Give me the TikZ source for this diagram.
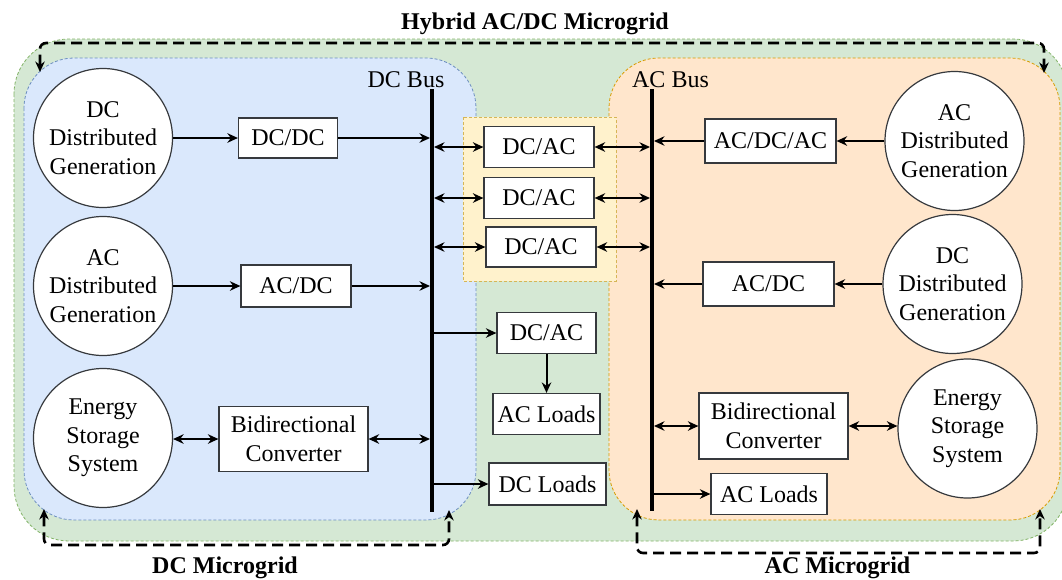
\documentclass[tikz,border=0pt]{standalone}
\usepackage{fontspec}
\setmainfont{Liberation Serif}
\usetikzlibrary{arrows.meta}
\definecolor{grnF}{HTML}{D5E8D4}
\definecolor{grnL}{HTML}{82B366}
\definecolor{bluF}{HTML}{DAE8FC}
\definecolor{bluL}{HTML}{6C8EBF}
\definecolor{orgF}{HTML}{FFE6CC}
\definecolor{orgL}{HTML}{D79B00}
\definecolor{ylwF}{HTML}{FFF2CC}
\definecolor{ylwL}{HTML}{D6B656}
\definecolor{boxL}{HTML}{36393D}
\tikzset{
  region/.style={line width=0.8pt, dash pattern=on 3pt off 2pt},
  box/.style={draw=boxL, fill=white, line width=1.2pt, inner sep=0pt, align=center,
    font=\fontsize{24}{28.5}\selectfont},
  circ/.style={circle, draw=boxL, fill=white, line width=1.2pt, inner sep=0pt,
    minimum size=139pt, align=center, font=\fontsize{24}{28.5}\selectfont},
  tipA/.tip={Stealth[length=10.5pt,width=9.5pt]},
  conn/.style={line width=2pt, -tipA},
  biconn/.style={line width=2pt, tipA-tipA},
  bus/.style={line width=4.2pt},
  lbl/.style={font=\fontsize{24}{28.5}\selectfont, inner sep=0pt},
  ttl/.style={font=\fontsize{24}{28.5}\selectfont\bfseries, inner sep=0pt},
  bracket/.style={line width=2.6pt, dash pattern=on 11pt off 6pt, rounded corners=6pt, tipA-tipA}
}
\begin{document}
\begin{tikzpicture}[x=1pt,y=-1pt]
\useasboundingbox (0,0) rectangle (1062,579);
\clip (0,0) rectangle (1062,579);

% microgrid areas
\draw[region, draw=grnL, fill=grnF, rounded corners=55pt] (14,39) rectangle (1068,541);
\draw[region, draw=bluL, fill=bluF, rounded corners=50pt] (24,58) rectangle (476,520);
\draw[region, draw=orgL, fill=orgF, rounded corners=50pt] (609,58) rectangle (1060,520);
\draw[region, draw=ylwL, fill=ylwF] (463,117) rectangle (616,281);

% buses
\coordinate (dcbT) at (432,89);
\coordinate (dcbB) at (432,512);
\coordinate (acbT) at (652,89);
\coordinate (acbB) at (652,511);
\draw[bus] (dcbT) -- (dcbB);
\draw[bus] (acbT) -- (acbB);
\node[lbl, anchor=base] (dcbl) at (406,87) {DC Bus};
\node[lbl, anchor=base] (acbl) at (670.5,87) {AC Bus};

% DC side
\node[circ] (dgdc) at (103,138) {DC\\Distributed\\Generation};
\node[circ] (dgac) at (103,286) {AC\\Distributed\\Generation};
\node[circ] (essl) at (103,438) {Energy\\Storage\\System};
\node[box, minimum width=99pt, minimum height=40pt] (dcdc) at (288,138) {DC/DC};
\node[box, minimum width=110pt, minimum height=42pt] (acdcl) at (296,286) {AC/DC};
\node[box, minimum width=149pt, minimum height=65pt] (bdl) at (293.5,439) {Bidirectional\\Converter};

% interlinking and central loads
\node[box, minimum width=110pt, minimum height=41pt] (dcac1) at (539,147) {DC/AC};
\node[box, minimum width=110pt, minimum height=41pt] (dcac2) at (539,198) {DC/AC};
\node[box, minimum width=110pt, minimum height=40pt] (dcac3) at (541,247) {DC/AC};
\node[box, minimum width=99pt, minimum height=41pt] (dcac4) at (546.5,333) {DC/AC};
\node[box, minimum width=107pt, minimum height=41pt] (acld1) at (546.5,414) {AC Loads};
\node[box, minimum width=117pt, minimum height=42pt] (dcld) at (547.5,484) {DC Loads};

% AC side
\node[circ] (dgacr) at (954.5,141) {AC\\Distributed\\Generation};
\node[circ] (dgdcr) at (952.5,284) {DC\\Distributed\\Generation};
\node[circ] (essr) at (967.5,428.5) {Energy\\Storage\\System};
\node[box, minimum width=131pt, minimum height=44pt] (acdcac) at (770.5,141) {AC/DC/AC};
\node[box, minimum width=131pt, minimum height=44pt] (acdcr) at (768.5,284) {AC/DC};
\node[box, minimum width=149pt, minimum height=66pt] (bdr) at (773.5,426) {Bidirectional\\Converter};
\node[box, minimum width=116pt, minimum height=41pt] (acld2) at (769,494) {AC Loads};

% DC side connectors
\draw[conn] (dgdc.east) -- (dcdc.west);
\draw[conn, shorten >=2pt] (dcdc.east) -- (dcdc.east -| dcbT);
\draw[conn] (dgac.east) -- (acdcl.west);
\draw[conn, shorten >=2pt] (acdcl.east) -- (acdcl.east -| dcbT);
\draw[biconn] (bdl.west -| essl.east) -- (bdl.west);
\draw[biconn, shorten >=2pt] (bdl.east) -- (bdl.east -| dcbT);

% interlinking converters
\foreach \c in {dcac1,dcac2,dcac3}{
  \draw[biconn, shorten <=2pt] (\c.west -| dcbT) -- (\c.west);
  \draw[biconn, shorten >=2pt] (\c.east) -- (\c.east -| acbT);
}
\draw[conn] (dcac4.west -| dcbT) -- (dcac4.west);
\draw[conn] (dcac4.south) -- (acld1.north);
\draw[conn] (dcld.west -| dcbT) -- (dcld.west);

% AC side connectors
\draw[conn] (dgacr.west) -- (acdcac.east);
\draw[conn, shorten >=2pt] (acdcac.west) -- (acdcac.west -| acbT);
\draw[conn] (dgdcr.west) -- (acdcr.east);
\draw[conn, shorten >=2pt] (acdcr.west) -- (acdcr.west -| acbT);
\draw[biconn, shorten <=2pt] (bdr.west -| acbT) -- (bdr.west);
\draw[biconn] (bdr.east) -- (bdr.east -| essr.west);
\draw[conn] (acld2.west -| acbT) -- (acld2.west);

% grouping brackets
\coordinate (hybA) at (40,72);
\coordinate (hybB) at (40,43);
\coordinate (hybC) at (1044,43);
\coordinate (hybD) at (1044,73);
\draw[bracket] (hybA) -- (hybB) -- (hybC) -- (hybD);
\node[ttl, anchor=base] (thyb) at (535,29) {Hybrid AC/DC Microgrid};

\coordinate (dcgA) at (44,509);
\coordinate (dcgB) at (44,545);
\coordinate (dcgC) at (449,545);
\coordinate (dcgD) at (449,510);
\draw[bracket] (dcgA) -- (dcgB) -- (dcgC) -- (dcgD);
\node[ttl, anchor=base] (tdc) at (225,573) {DC Microgrid};

\coordinate (acgA) at (637,509);
\coordinate (acgB) at (637,553);
\coordinate (acgC) at (1040,553);
\coordinate (acgD) at (1040,509);
\draw[bracket] (acgA) -- (acgB) -- (acgC) -- (acgD);
\node[ttl, anchor=base] (tac) at (837.5,573.5) {AC Microgrid};
\end{tikzpicture}
\end{document}
